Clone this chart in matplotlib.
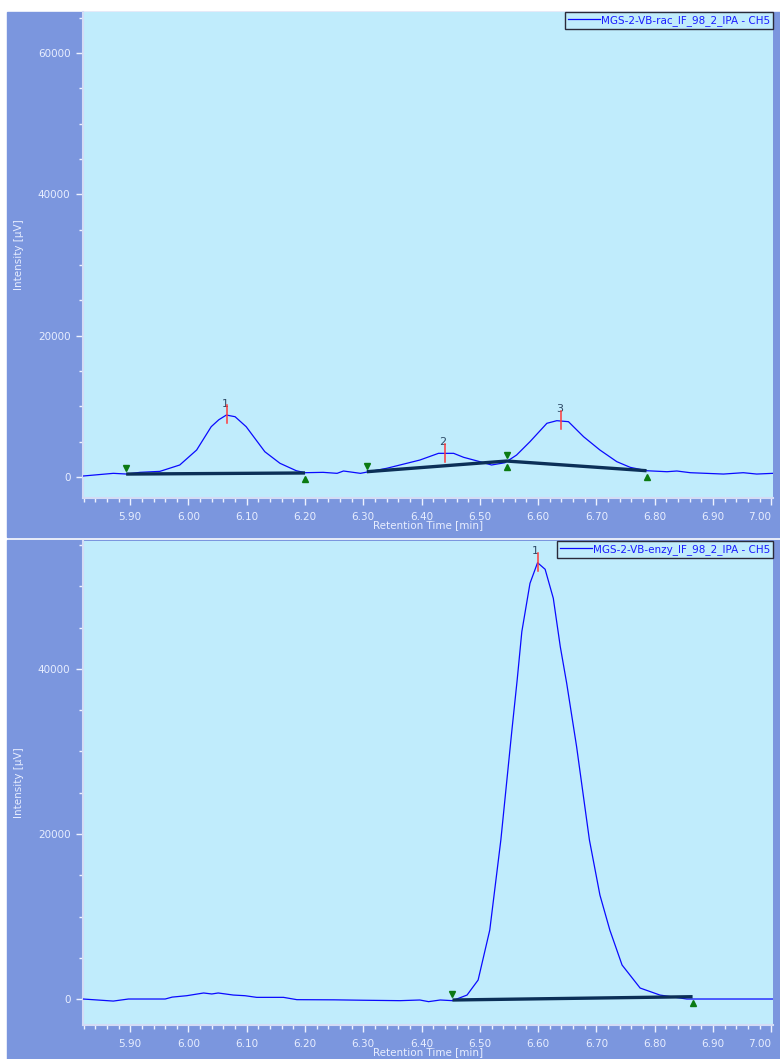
import matplotlib
matplotlib.use("Agg")
import matplotlib.pyplot as plt
from matplotlib.patches import Rectangle
from matplotlib.ticker import MultipleLocator, FormatStrFormatter

# racemic run (CH5)
rac_time = [5.819, 5.871, 5.894, 5.917, 5.951, 5.985, 6.014, 6.039, 6.052, 6.065, 6.080,
            6.099, 6.131, 6.157, 6.185, 6.200, 6.231, 6.255, 6.266, 6.295, 6.340,
            6.397, 6.429, 6.455, 6.472, 6.500, 6.520, 6.543, 6.563, 6.586, 6.615,
            6.632, 6.652, 6.678, 6.706, 6.735, 6.758, 6.786, 6.821, 6.838, 6.861,
            6.918, 6.952, 6.975, 7.003]
rac_signal = [140, 520, 420, 660, 800, 1700, 3820, 7120, 8100, 8770, 8530,
              7120, 3580, 1940, 890, 610, 660, 520, 850, 520, 1230,
              2400, 3350, 3350, 2790, 2170, 1700, 2020, 3110, 5000, 7600,
              7970, 7830, 5700, 3820, 2170, 1370, 890, 750, 850, 610,
              420, 610, 420, 520]
rac_peaks = [("1", 6.066, 8770), ("2", 6.440, 3350), ("3", 6.640, 7970)]
rac_base_t = [[5.893, 6.200], [6.306, 6.546, 6.786]]
rac_base_y = [[420, 570], [750, 2260, 890]]

# enzymatic run (CH5)
enz_time = [5.819, 5.871, 5.897, 5.960, 5.972, 5.997, 6.026, 6.040, 6.051, 6.077,
            6.097, 6.117, 6.163, 6.186, 6.250, 6.300, 6.363, 6.397, 6.412, 6.432,
            6.453, 6.478, 6.497, 6.517, 6.536, 6.555, 6.564, 6.572, 6.586, 6.599,
            6.612, 6.626, 6.638, 6.649, 6.666, 6.688, 6.706, 6.723, 6.744, 6.775,
            6.809, 6.855, 6.872, 6.901, 6.958, 7.003]
enz_signal = [0, -250, 0, 0, 230, 400, 730, 610, 730, 480,
              400, 200, 200, -80, -100, -150, -200, -120, -320, -120,
              -200, 480, 2300, 8360, 19270, 32600, 38660, 44520, 50380, 52880,
              52080, 48570, 42700, 38260, 30580, 19270, 12600, 8360, 4120, 1330,
              480, 0, 0, 0, 0, 0]
enz_peaks = [("1", 6.599, 52880)]
enz_base_t = [[6.453, 6.865]]
enz_base_y = [[-120, 280]]

W, H = 780, 1059
OUTER = "#7b96de"
PLOT_BG = "#c0ecfc"
TICK_TXT = "#e8eeff"
TRACE = "#0a0aff"
BASE = "#0b2f57"
MARK = "#0b7a12"

plt.rcParams["font.family"] = ["DejaVu Sans"]
fig = plt.figure(figsize=(W / 100, H / 100), dpi=100, facecolor="white")

# dark blue panels behind each plot
fig.patches.append(Rectangle((7 / W, (H - 537) / H), 773 / W, 525 / H,
                             transform=fig.transFigure, color=OUTER, zorder=-5))
fig.patches.append(Rectangle((7 / W, 0), 773 / W, (H - 540) / H,
                             transform=fig.transFigure, color=OUTER, zorder=-5))


def draw_panel(rect, t, y, peaks, base_t, base_y, ylim, name):
    ax = fig.add_axes(rect, facecolor=PLOT_BG)
    ax.plot(t, y, color=TRACE, lw=0.9, label=name, zorder=3)

    span = ylim[1] - ylim[0]
    for bt, by in zip(base_t, base_y):
        ax.plot(bt, by, color=BASE, lw=2.4, solid_capstyle="butt", zorder=4)
        off = span * 0.012
        ax.plot(bt[:-1], [v + off for v in by[:-1]], ls="none", marker="v",
                ms=5, color=MARK, zorder=5)
        ax.plot(bt[1:], [v - off for v in by[1:]], ls="none", marker="^",
                ms=5, color=MARK, zorder=5)

    for lab, pt, py in peaks:
        ax.text(pt - 0.003, py + span * 0.013, lab, ha="center", va="bottom",
                fontsize=8, color="#2e4a66", zorder=6)
        ax.plot([pt, pt], [py - span * 0.017, py + span * 0.02], color="#ff3a3a",
                lw=1.1, zorder=7)

    ax.set_xlim(5.819, 7.003)
    ax.set_ylim(*ylim)
    ax.xaxis.set_major_locator(MultipleLocator(0.1))
    ax.xaxis.set_minor_locator(MultipleLocator(0.02))
    ax.xaxis.set_major_formatter(FormatStrFormatter("%.2f"))
    ax.yaxis.set_major_locator(MultipleLocator(20000))
    ax.yaxis.set_minor_locator(MultipleLocator(5000))
    ax.tick_params(which="both", colors="#eef2ff", labelcolor=TICK_TXT,
                   labelsize=7.5, direction="out")
    ax.tick_params(which="major", length=5, width=1, pad=4)
    ax.tick_params(which="minor", length=3, width=1)
    ax.tick_params(axis="x", which="major", pad=5)
    for s in ("top", "right"):
        ax.spines[s].set_visible(False)
    for s in ("left", "bottom"):
        ax.spines[s].set_color("#d4dcf6")
        ax.spines[s].set_linewidth(1.5)

    ax.set_xlabel("Retention Time [min]", fontsize=7.5, color=TICK_TXT, labelpad=-1)
    ax.set_ylabel("Intensity [µV]", fontsize=7.5, color=TICK_TXT, labelpad=10)

    fig.canvas.draw()
    for lb in ax.get_xticklabels():
        if lb.get_text() == "7.00":
            lb.set_horizontalalignment("right")

    leg = ax.legend(loc="upper right", bbox_to_anchor=(1, 1), borderaxespad=0,
                    fontsize=7.5, frameon=True, fancybox=False, handlelength=3,
                    handletextpad=0.1, borderpad=0.3, labelcolor="#1a1aff")
    leg.get_frame().set_edgecolor("#2a2a3a")
    leg.get_frame().set_facecolor(PLOT_BG)
    leg.get_frame().set_alpha(1)
    leg.get_frame().set_linewidth(1.0)
    return ax


draw_panel([83 / W, (H - 498) / H, 690 / W, 486 / H], rac_time, rac_signal,
           rac_peaks, rac_base_t, rac_base_y, (-2970, 65800),
           "MGS-2-VB-rac_IF_98_2_IPA - CH5")
draw_panel([83 / W, (H - 1025) / H, 690 / W, 484 / H], enz_time, enz_signal,
           enz_peaks, enz_base_t, enz_base_y, (-3150, 55510),
           "MGS-2-VB-enzy_IF_98_2_IPA - CH5")

fig.savefig("out.png", dpi=100, facecolor=fig.get_facecolor())
